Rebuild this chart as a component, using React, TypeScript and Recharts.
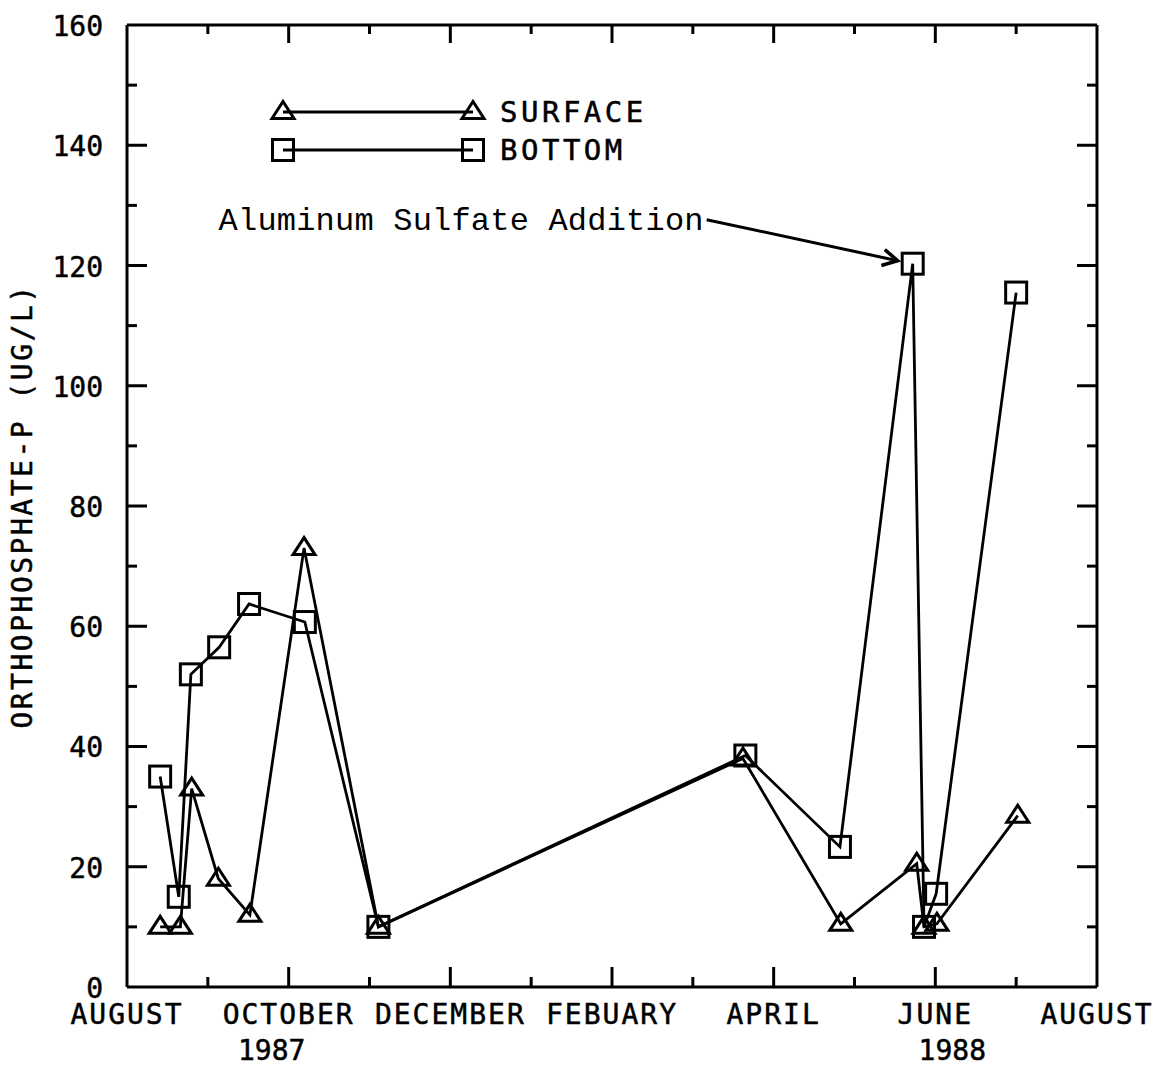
import React from 'react';
import { LineChart, Line, XAxis, YAxis, Legend, ReferenceDot, Label } from 'recharts';

// ---- data (x = months since 1 August 1987) ----
const surfaceMonths = [0.41, 0.66, 0.80, 1.13, 1.52, 2.19, 3.11, 7.62, 8.83, 9.77, 9.86, 10.02, 11.02];
const surfaceValues = [10, 10, 33, 18, 12, 73, 10, 38, 10.5, 20.5, 10, 10.5, 28.5];
const bottomMonths = [0.41, 0.64, 0.79, 1.14, 1.51, 2.20, 3.11, 7.65, 8.82, 9.72, 9.86, 10.01, 11.0];
const bottomValues = [35, 15, 52, 56.5, 63.7, 60.7, 10, 38.5, 23.3, 120.3, 10, 15.5, 115.5];

const monthTicks = [0, 1, 2, 3, 4, 5, 6, 7, 8, 9, 10, 11, 12];
const monthLabels = ['AUGUST', '', 'OCTOBER', '', 'DECEMBER', '', 'FEBUARY', '', 'APRIL', '', 'JUNE', '', 'AUGUST'];
const yearLabels = ['', '', '1987', '', '', '', '', '', '', '', '1988', '', ''];
const yTicks = [0, 10, 20, 30, 40, 50, 60, 70, 80, 90, 100, 110, 120, 130, 140, 150, 160];

const seriesNames = ['SURFACE', 'BOTTOM'];
const yAxisTitle = 'ORTHOPHOSPHATE-P (UG/L)';
const annotationText = 'Aluminum Sulfate Addition';
const annotationIndex = 9;

const surfaceData = surfaceMonths.map((m, i) => ({ m, v: surfaceValues[i] }));
const bottomData = bottomMonths.map((m, i) => ({ m, v: bottomValues[i] }));

// ---- styles ----
const W = 1156;
const H = 1067;
const INK = '#000';
const THIN = 0.01;
const PLOT_FONT = '"DejaVu Sans Mono", monospace';
const TYPE_FONT = '"Liberation Mono", "Courier New", monospace';
const yearShift: Record<string, number> = { '1987': -17, '1988': 17 };
const MAJOR = 20;
const MINOR = 10;

const triPoints = (cx: number, cy: number) =>
  `${cx},${cy - 10.5} ${cx - 11},${cy + 6.5} ${cx + 11},${cy + 6.5}`;

const TriangleDot = (p: any) => {
  const { cx, cy, index } = p;
  if (cx == null || cy == null) return <g key={`t${index}`} />;
  return (
    <polygon key={`t${index}`} points={triPoints(cx, cy)} fill="none" stroke={INK} strokeWidth={3} />
  );
};

const SquareDot = (p: any) => {
  const { cx, cy, index } = p;
  if (cx == null || cy == null) return <g key={`s${index}`} />;
  return (
    <rect key={`s${index}`} x={cx - 10.5} y={cy - 10.5} width={21} height={21} fill="none" stroke={INK} strokeWidth={3} />
  );
};

const textStyle = { fontFamily: PLOT_FONT, fontSize: 28, fill: INK, stroke: INK, strokeWidth: 0.5 };

const tickLen = (value: number, isMajor: boolean) => (isMajor ? MAJOR : MINOR);

// bottom axis: labels + inward ticks
const XTickBottom = (p: any) => {
  const { x, y, payload, index } = p;
  const v = payload.value;
  const edge = index === 0 || index === monthTicks.length - 1;
  const major = monthLabels[index] !== '';
  const year = yearLabels[index];
  return (
    <g>
      {!edge && <line x1={x} y1={y} x2={x} y2={y - tickLen(v, major)} stroke={INK} strokeWidth={3} />}
      {monthLabels[index] ? (
        <text x={x} y={y + 37} textAnchor="middle" letterSpacing={2} {...textStyle}>
          {monthLabels[index]}
        </text>
      ) : null}
      {year ? (
        <text x={x + yearShift[year]} y={y + 73} textAnchor="middle" {...textStyle}>
          {year}
        </text>
      ) : null}
    </g>
  );
};

// top axis: inward ticks only
const XTickTop = (p: any) => {
  const { x, y, payload, index } = p;
  const edge = index === 0 || index === monthTicks.length - 1;
  if (edge) return <g />;
  const major = monthLabels[index] !== '';
  return <line x1={x} y1={y} x2={x} y2={y + (major ? 18 : 9)} stroke={INK} strokeWidth={3} />;
};

const YTickLeft = (p: any) => {
  const { x, y, payload, index } = p;
  const v = payload.value;
  const edge = index === 0 || index === yTicks.length - 1;
  const major = v % 20 === 0;
  return (
    <g>
      {!edge && <line x1={x} y1={y} x2={x + (major ? MAJOR : MINOR)} y2={y} stroke={INK} strokeWidth={3} />}
      {major ? (
        <text x={x - 24} y={y + 11} textAnchor="end" {...textStyle}>
          {v}
        </text>
      ) : null}
    </g>
  );
};

const YTickRight = (p: any) => {
  const { x, y, payload, index } = p;
  const v = payload.value;
  const edge = index === 0 || index === yTicks.length - 1;
  if (edge) return <g />;
  const major = v % 20 === 0;
  return <line x1={x} y1={y} x2={x - (major ? MAJOR : MINOR)} y2={y} stroke={INK} strokeWidth={3} />;
};

const YTitle = (p: any) => {
  const vb = p.viewBox || {};
  const cx = vb.x + vb.width - 105;
  const cy = vb.y + vb.height / 2;
  return (
    <text
      x={cx}
      y={cy}
      transform={`rotate(-90 ${cx} ${cy})`}
      textAnchor="middle"
      dominantBaseline="central"
      letterSpacing={2.5}
      {...textStyle}
    >
      {yAxisTitle}
    </text>
  );
};

const Annotation = (p: any) => {
  const { cx, cy } = p;
  if (cx == null || cy == null) return <g />;
  const sx = cx - 206;
  const sy = cy - 44;
  const tx = cx - 15;
  const ty = cy - 3;
  const ang = Math.atan2(ty - sy, tx - sx);
  const hl = 17;
  const spread = 0.5;
  const a1x = tx - hl * Math.cos(ang - spread);
  const a1y = ty - hl * Math.sin(ang - spread);
  const a2x = tx - hl * Math.cos(ang + spread);
  const a2y = ty - hl * Math.sin(ang + spread);
  return (
    <g>
      <text x={cx - 209} y={cy - 34} textAnchor="end" fontFamily={TYPE_FONT} fontSize={32} letterSpacing={0.2} fill={INK}>
        {annotationText}
      </text>
      <line x1={sx} y1={sy} x2={tx} y2={ty} stroke={INK} strokeWidth={3} />
      <polyline points={`${a1x},${a1y} ${tx},${ty} ${a2x},${a2y}`} fill="none" stroke={INK} strokeWidth={3.5} />
    </g>
  );
};

const legendText = { ...textStyle, fontSize: 29 };

const LegendContent = () => (
  <svg width={440} height={80} style={{ overflow: 'visible' }}>
    <line x1={23} y1={24} x2={213} y2={24} stroke={INK} strokeWidth={2.8} />
    <polygon points={triPoints(23, 24)} fill="none" stroke={INK} strokeWidth={3} />
    <polygon points={triPoints(213, 24)} fill="none" stroke={INK} strokeWidth={3} />
    <text x={240} y={24} dominantBaseline="central" letterSpacing={3.5} {...legendText}>
      {seriesNames[0]}
    </text>
    <line x1={23} y1={62} x2={213} y2={62} stroke={INK} strokeWidth={2.8} />
    <rect x={12.5} y={51.5} width={21} height={21} fill="none" stroke={INK} strokeWidth={3} />
    <rect x={202.5} y={51.5} width={21} height={21} fill="none" stroke={INK} strokeWidth={3} />
    <text x={240} y={62} dominantBaseline="central" letterSpacing={3.5} {...legendText}>
      {seriesNames[1]}
    </text>
  </svg>
);

export default function App() {
  const axisLine = { stroke: INK, strokeWidth: 3 };
  return (
    <div style={{ position: 'absolute', left: 0, top: 0, width: W, height: H, background: '#fff' }}>
      <LineChart width={W} height={H} margin={{ top: 25, right: 59, bottom: 80, left: 127 }}>
        <XAxis
          xAxisId="x"
          dataKey="m"
          type="number"
          domain={[0, 12]}
          allowDataOverflow
          ticks={monthTicks}
          interval={0}
          height={THIN}
          tickSize={0}
          tickMargin={0}
          tickLine={false}
          axisLine={axisLine}
          tick={<XTickBottom />}
        />
        <XAxis
          xAxisId="xt"
          orientation="top"
          dataKey="m"
          type="number"
          domain={[0, 12]}
          allowDataOverflow
          ticks={monthTicks}
          interval={0}
          height={THIN}
          tickSize={0}
          tickMargin={0}
          tickLine={false}
          axisLine={axisLine}
          tick={<XTickTop />}
        />
        <YAxis
          yAxisId="y"
          type="number"
          domain={[0, 160]}
          allowDataOverflow
          ticks={yTicks}
          interval={0}
          width={THIN}
          tickSize={0}
          tickMargin={0}
          tickLine={false}
          axisLine={axisLine}
          tick={<YTickLeft />}
        >
          <Label content={<YTitle />} />
        </YAxis>
        <YAxis
          yAxisId="yr"
          orientation="right"
          type="number"
          domain={[0, 160]}
          allowDataOverflow
          ticks={yTicks}
          interval={0}
          width={THIN}
          tickSize={0}
          tickMargin={0}
          tickLine={false}
          axisLine={axisLine}
          tick={<YTickRight />}
        />

        <Line
          xAxisId="x"
          yAxisId="y"
          data={surfaceData}
          dataKey="v"
          name={seriesNames[0]}
          stroke={INK}
          strokeWidth={2.8}
          dot={TriangleDot}
          activeDot={false}
          isAnimationActive={false}
        />
        <Line
          xAxisId="xt"
          yAxisId="yr"
          data={bottomData}
          dataKey="v"
          name={seriesNames[1]}
          stroke={INK}
          strokeWidth={2.8}
          dot={SquareDot}
          activeDot={false}
          isAnimationActive={false}
        />
        <ReferenceDot
          xAxisId="xt"
          yAxisId="yr"
          x={bottomMonths[annotationIndex]}
          y={bottomValues[annotationIndex]}
          r={0}
          shape={(p: any) => <Annotation {...p} />}
        />
        <Legend
          layout="vertical"
          align="center"
          verticalAlign="middle"
          wrapperStyle={{ position: 'absolute', left: 260, top: 88, width: 440, height: 80 }}
          content={() => <LegendContent />}
        />
      </LineChart>
    </div>
  );
}
